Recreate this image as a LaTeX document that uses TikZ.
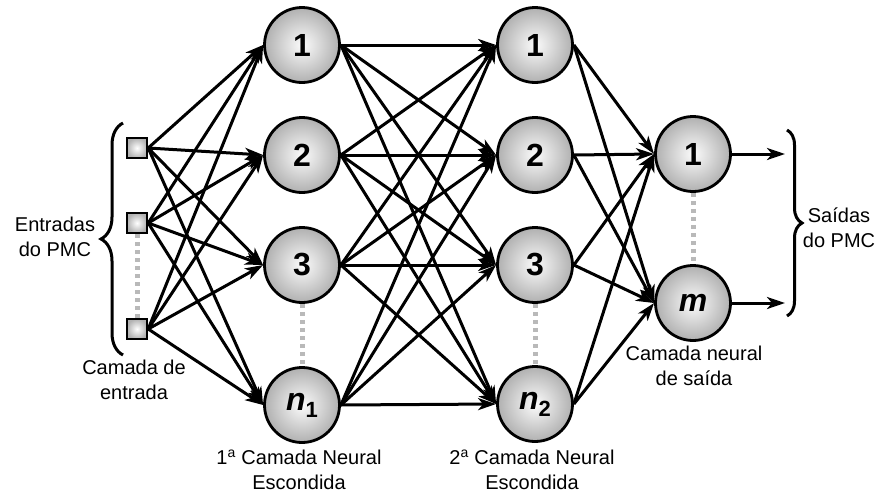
\documentclass[tikz,border=0pt]{standalone}
\usepackage{fontspec}
\setmainfont{Liberation Sans}
\usetikzlibrary{arrows.meta,decorations.pathreplacing}
\begin{document}
\begin{tikzpicture}[x=1pt,y=-1pt,
  neuron/.style={circle,draw=black,line width=2.8pt,minimum size=75pt,inner sep=0pt,
    shading=radial,inner color=gray!3,outer color=gray!62,font=\fontsize{32}{32}\selectfont\bfseries},
  inbox/.style={rectangle,draw=black,line width=2.4pt,minimum size=20pt,inner sep=0pt,
    shading=radial,inner color=white,outer color=gray!60},
  conn/.style={line width=3pt,-{Stealth[length=18pt,width=12pt,inset=5pt]}},
  dots/.style={gray!55,line width=5pt,dash pattern=on 4pt off 4pt},
  lbl/.style={font=\fontsize{20}{25}\selectfont,align=center},
  brc/.style={line width=3pt,decorate,decoration={brace,amplitude=#1}}]
\useasboundingbox (0,0) rectangle (881,493);
% inputs
\node[inbox] (i1) at (137,148) {};
\node[inbox] (i2) at (137,223) {};
\node[inbox] (i3) at (137,329) {};
% hidden 1
\node[neuron] (a1) at (302,45) {1};
\node[neuron] (a2) at (302,155) {2};
\node[neuron] (a3) at (302,265) {3};
\node[neuron] (a4) at (302,405) {\textit{n}\raisebox{-7pt}{\fontsize{22}{22}\selectfont 1}};
% hidden 2
\node[neuron] (b1) at (535,45) {1};
\node[neuron] (b2) at (535,155) {2};
\node[neuron] (b3) at (535,265) {3};
\node[neuron] (b4) at (535,404) {\textit{n}\raisebox{-7pt}{\fontsize{22}{22}\selectfont 2}};
% output
\node[neuron] (c1) at (693,154) {1};
\node[neuron] (c2) at (693,303) {\textit{m}};
% dotted lines
\draw[dots] (i2.south) -- (i3.north);
\draw[dots] (a3.south) -- (a4.north);
\draw[dots] (b3.south) -- (b4.north);
\draw[dots] (c1.south) -- (c2.north);
% connections
\foreach \i in {i1,i2,i3}
  \foreach \j in {a1,a2,a3,a4}
    \draw[conn] (\i.east) -- (\j.west);
\foreach \i in {a1,a2,a3,a4}
  \foreach \j in {b1,b2,b3,b4}
    \draw[conn] (\i.east) -- (\j.west);
\foreach \i in {b1,b2,b3,b4}
  \foreach \j in {c1,c2}
    \draw[conn] (\i.east) -- (\j.west);
\coordinate (o1) at (785,154);
\coordinate (o2) at (785,303);
\draw[conn] (c1.east) -- (o1);
\draw[conn] (c2.east) -- (o2);
% braces
\coordinate (lb1) at (123,355);
\coordinate (lb2) at (123,123);
\draw[brc=22pt] (lb1) -- (lb2);
\coordinate (rb1) at (787,130);
\coordinate (rb2) at (787,316);
\draw[brc=15pt] (rb1) -- (rb2);
% labels
\node[lbl] (tin) at (55,237) {Entradas\\do PMC};
\node[lbl] (tout) at (839,228) {Saídas\\do PMC};
\node[lbl] (tl0) at (134,380) {Camada de\\entrada};
\node[lbl] (tl1) at (299,470) {1\textsuperscript{a} Camada Neural\\Escondida};
\node[lbl] (tl2) at (532,470) {2\textsuperscript{a} Camada Neural\\Escondida};
\node[lbl] (tl3) at (694,366) {Camada neural\\de saída};
\end{tikzpicture}
\end{document}
